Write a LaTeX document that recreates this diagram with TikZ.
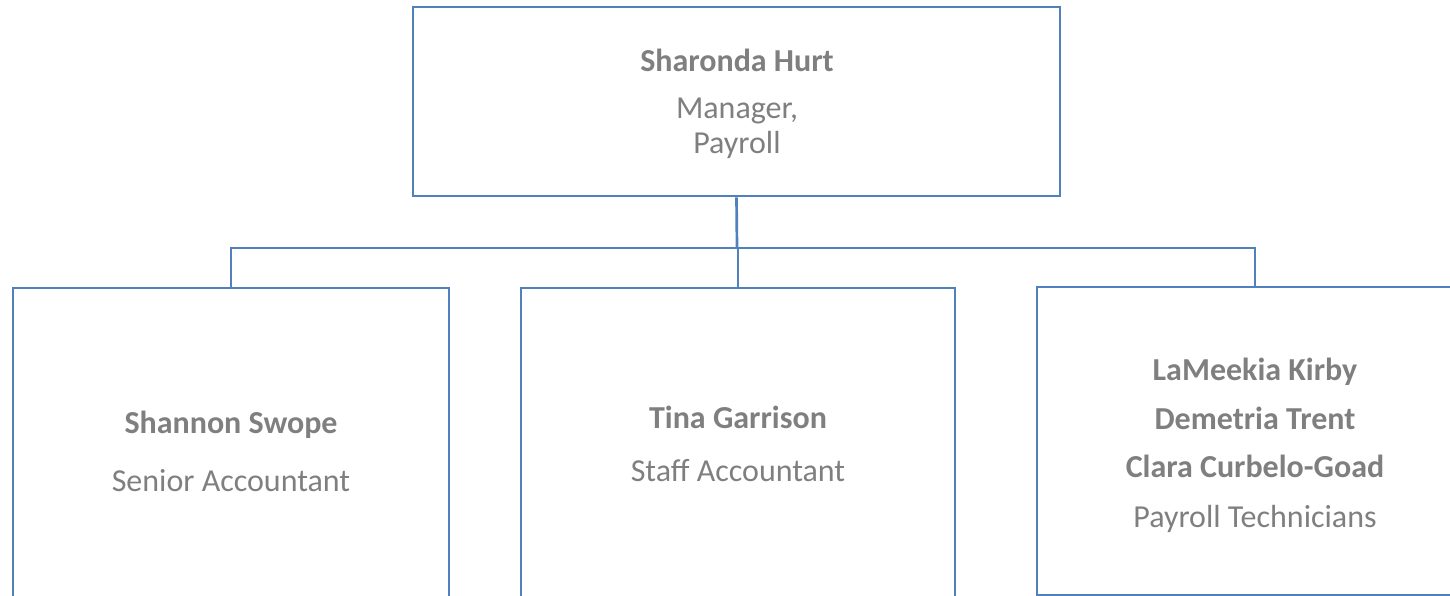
\documentclass[tikz,border=0pt]{standalone}
\usepackage{fontspec}
\setmainfont{Carlito}
\definecolor{boxline}{HTML}{4F81BD}
\definecolor{txt}{HTML}{7F7F7F}
\begin{document}
\begin{tikzpicture}[x=1pt,y=-1pt,
  box/.style={draw=boxline,line width=2.7pt,rectangle,inner sep=0pt},
  conn/.style={draw=boxline,line width=2.7pt},
  nm/.style={anchor=base,text=txt,font=\fontsize{32}{35}\selectfont\bfseries,inner sep=0pt},
  ttl/.style={anchor=base,text=txt,font=\fontsize{32}{35}\selectfont,inner sep=0pt}]
\useasboundingbox (0,0) rectangle (1450,596);
\clip (0,0) rectangle (1450,596);
\node[box,minimum width=647pt,minimum height=189pt] (top) at (736.5,101.5) {};
\node[box,minimum width=436pt,minimum height=360pt] (left) at (231,468) {};
\node[box,minimum width=434pt,minimum height=360pt] (mid) at (738,468) {};
\node[box,minimum width=436pt,minimum height=308pt] (right) at (1255,441) {};
\coordinate (j) at (737,248);
\draw[conn] (top.south) -- (j);
\draw[conn] (j) -| (left.north);
\draw[conn] (j) -| (mid.north);
\draw[conn] (j) -| (right.north);
\node[nm] (t1) at (737,72) {Sharonda Hurt};
\node[ttl] (t2) at (737,119) {Manager,};
\node[ttl] (t3) at (737,154) {Payroll};
\node[nm] (l1) at (231,433) {Shannon Swope};
\node[ttl] (l2) at (231,491) {Senior Accountant};
\node[nm] (m1) at (738,428) {Tina Garrison};
\node[ttl] (m2) at (738,481) {Staff Accountant};
\node[nm] (r1) at (1255,380) {LaMeekia Kirby};
\node[nm] (r2) at (1255,429) {Demetria Trent};
\node[nm] (r3) at (1255,477) {Clara Curbelo-Goad};
\node[ttl] (r4) at (1255,527) {Payroll Technicians};
\end{tikzpicture}
\end{document}
